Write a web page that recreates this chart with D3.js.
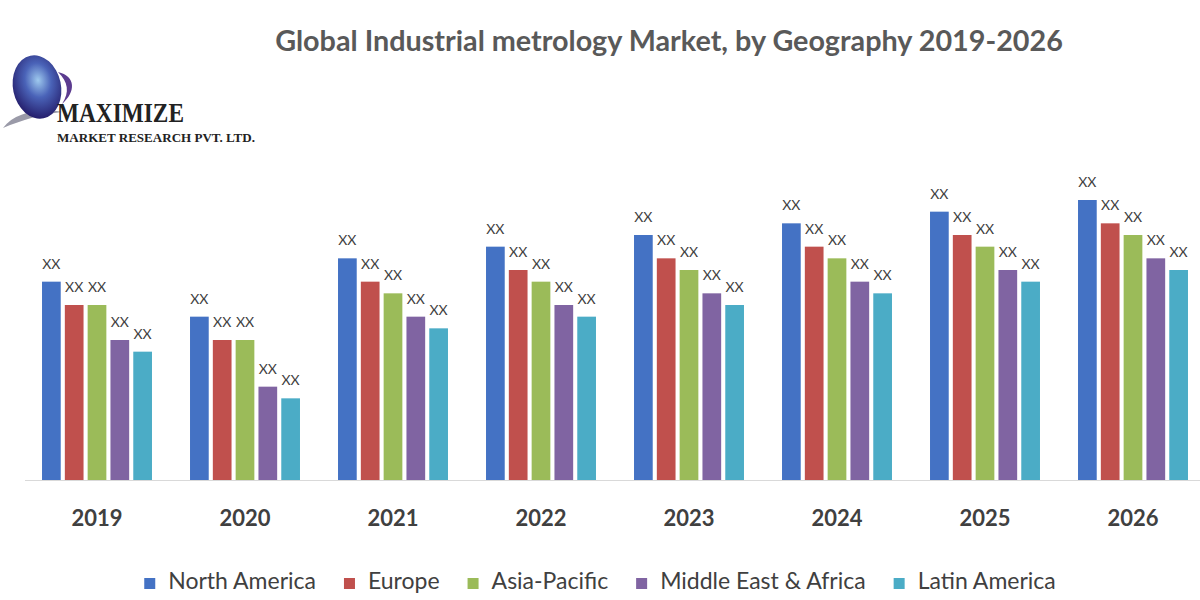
<!DOCTYPE html>
<html>
<head>
<meta charset="utf-8">
<script src="https://cdn.jsdelivr.net/npm/d3@7"></script>
<style>
  body { margin: 0; background: #fff; }
  svg { display: block; }
</style>
</head>
<body>
<div id="chart"></div>
<script>
// data (bar heights in relative units, labels are all "XX")
var years = ["2019", "2020", "2021", "2022", "2023", "2024", "2025", "2026"];
var regions = ["North America", "Europe", "Asia-Pacific", "Middle East & Africa", "Latin America"];
var northAmerica = [17, 14, 19, 20, 21, 22, 23, 24];
var europe       = [15, 12, 17, 18, 19, 20, 21, 22];
var asiaPacific  = [15, 12, 16, 17, 18, 19, 20, 21];
var middleEast   = [12, 8, 14, 15, 16, 17, 18, 19];
var latinAmerica = [11, 7, 13, 14, 15, 16, 17, 18];
var barLabel = "XX";

var series = [northAmerica, europe, asiaPacific, middleEast, latinAmerica];
var color = ["#4472C4", "#C0504D", "#9BBB59", "#8064A2", "#4BACC6"];

var width = 1200;
var height = 600;
var baseY = 480;

var svg = d3.select("#chart")
  .append("svg")
  .attr("width", width)
  .attr("height", height);

// logo
var defs = svg.append("defs");
var grad = defs.append("radialGradient")
  .attr("id", "globe")
  .attr("cx", "55%").attr("cy", "40%").attr("r", "60%");
grad.append("stop").attr("offset", "0%").attr("stop-color", "#9ec9ee");
grad.append("stop").attr("offset", "45%").attr("stop-color", "#4a63b8");
grad.append("stop").attr("offset", "100%").attr("stop-color", "#26206e");

var logo = svg.append("g");
logo.append("path")
  .attr("d", "M3,128 C15,112 40,108 62,112 C42,114 22,120 3,128 Z")
  .attr("fill", "#9a9aa8");
logo.append("ellipse")
  .attr("cx", 37).attr("cy", 87)
  .attr("rx", 24).attr("ry", 32)
  .attr("transform", "rotate(-12,37,87)")
  .attr("fill", "url(#globe)");
logo.append("path")
  .attr("d", "M58,72 C76,76 76,92 62,104 C70,92 68,82 58,72 Z")
  .attr("fill", "#5b3b8f");
logo.append("text")
  .attr("x", 57).attr("y", 122)
  .attr("textLength", 127)
  .attr("lengthAdjust", "spacingAndGlyphs")
  .style("font-family", "'Liberation Serif', serif")
  .style("font-weight", "bold")
  .style("font-size", "28px")
  .style("fill", "#222")
  .text("MAXIMIZE");
logo.append("text")
  .attr("x", 57).attr("y", 142)
  .attr("textLength", 198)
  .attr("lengthAdjust", "spacingAndGlyphs")
  .style("font-family", "'Liberation Serif', serif")
  .style("font-weight", "bold")
  .style("font-size", "13px")
  .style("fill", "#222")
  .text("MARKET RESEARCH PVT. LTD.");

// title
var title = svg.append("text")
  .attr("x", 669).attr("y", 51)
  .attr("text-anchor", "middle")
  .style("font-family", "Lato, sans-serif")
  .style("font-weight", "bold")
  .style("font-size", "26px")
  .style("fill", "#595959")
  .text("Global Industrial metrology Market, by Geography 2019-2026");
var tw = title.node().getComputedTextLength();
title.style("font-size", (26 * 788 / tw) + "px");

// scales
var x0 = d3.scaleBand()
  .domain(years)
  .range([23, 1207])
  .paddingInner(0.257)
  .paddingOuter(0.1285);

var x1 = d3.scaleBand()
  .domain(d3.range(regions.length))
  .range([0, x0.bandwidth()])
  .paddingInner(0.18);

var y = d3.scaleLinear()
  .domain([0, 24])
  .range([baseY, 200]);

// baseline
svg.append("line")
  .attr("x1", 25).attr("x2", 1200)
  .attr("y1", baseY + 0.5).attr("y2", baseY + 0.5)
  .attr("stroke", "#d9d9d9")
  .attr("stroke-width", 1);

// bars
var groups = svg.selectAll("g.year")
  .data(years)
  .enter()
  .append("g")
  .attr("class", "year")
  .attr("transform", function(d) { return "translate(" + x0(d) + ",0)"; });

groups.selectAll("rect")
  .data(function(d, i) {
    return series.map(function(s, k) { return { k: k, v: s[i] }; });
  })
  .enter()
  .append("rect")
  .attr("x", function(d) { return x1(d.k); })
  .attr("y", function(d) { return y(d.v); })
  .attr("width", x1.bandwidth())
  .attr("height", function(d) { return baseY - y(d.v); })
  .attr("fill", function(d) { return color[d.k]; });

groups.selectAll("text.lbl")
  .data(function(d, i) {
    return series.map(function(s, k) { return { k: k, v: s[i] }; });
  })
  .enter()
  .append("text")
  .attr("class", "lbl")
  .attr("x", function(d) { return x1(d.k) + x1.bandwidth() / 2; })
  .attr("y", function(d) { return y(d.v) - 13; })
  .attr("text-anchor", "middle")
  .style("font-family", "Lato, sans-serif")
  .style("font-size", "14px")
  .style("fill", "#404040")
  .text(barLabel);

// x axis labels
var xAxis = d3.axisBottom(x0).tickSize(0).tickPadding(0);
var axisG = svg.append("g")
  .attr("transform", "translate(0," + 508 + ")")
  .call(xAxis);
axisG.select(".domain").remove();
axisG.selectAll("text")
  .attr("dy", "0.8em")
  .style("font-family", "Lato, sans-serif")
  .style("font-weight", "bold")
  .style("font-size", "22px")
  .style("fill", "#404040");

// legend
var legend = svg.append("g");
var items = legend.selectAll("g")
  .data(regions)
  .enter()
  .append("g");
items.append("rect")
  .attr("width", 11).attr("height", 11)
  .attr("y", 578)
  .attr("fill", function(d, i) { return color[i]; });
items.append("text")
  .attr("x", 24)
  .attr("y", 589)
  .style("font-family", "Lato, sans-serif")
  .style("font-size", "23px")
  .style("fill", "#404040")
  .text(function(d) { return d; });

var gap = 28;
var pos = 0;
var offsets = [];
items.each(function() {
  var w = d3.select(this).select("text").node().getComputedTextLength();
  offsets.push(pos);
  pos += 24 + w + gap;
});
var total = pos - gap;
var start = 600 - total / 2;
items.attr("transform", function(d, i) { return "translate(" + (start + offsets[i]) + ",0)"; });
</script>
</body>
</html>
